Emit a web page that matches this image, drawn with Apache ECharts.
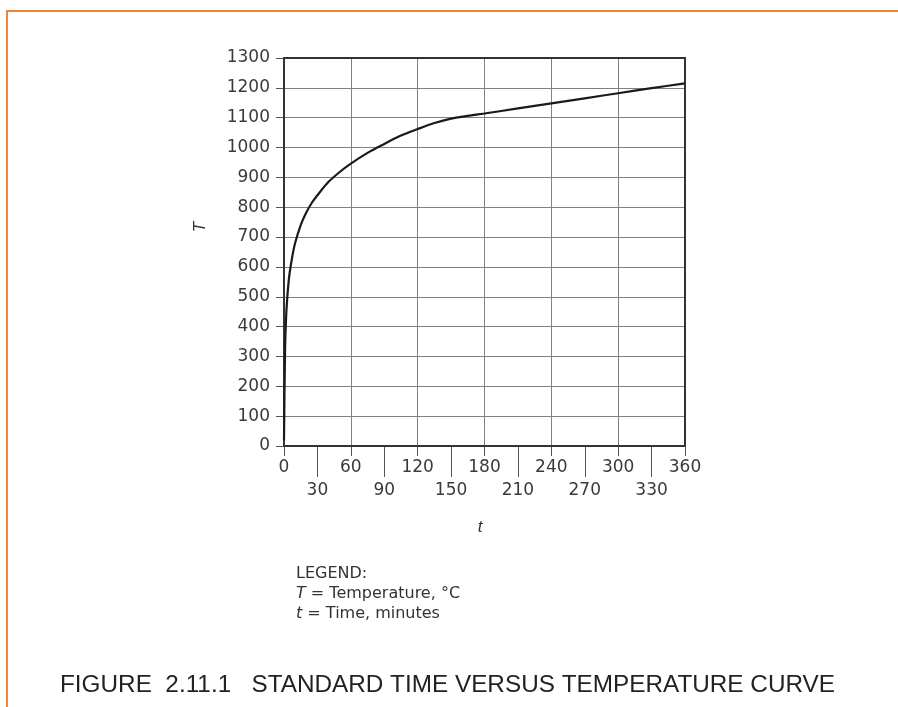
<!DOCTYPE html>
<html>
<head>
<meta charset="utf-8">
<script src="https://cdn.jsdelivr.net/npm/echarts@6/dist/echarts.min.js"></script>
<style>
html,body{margin:0;padding:0;background:#fff;}
#chart{width:898px;height:707px;}
</style>
</head>
<body>
<div id="chart"></div>
<script>
// time in minutes (t) and temperature in °C (T)
var timeMinutes = [0, 1, 2, 3, 4, 5, 7.5, 10, 15, 20, 25, 30, 40, 50, 60, 75, 90, 105, 120, 135, 150, 165, 180, 210, 240, 270, 300, 330, 360];
var temperature = [20, 330, 440, 500, 545, 578, 636, 680, 740, 782, 815, 840, 885, 918, 946, 982, 1012, 1040, 1062, 1082, 1097, 1106, 1114, 1131, 1148, 1165, 1182, 1199, 1215];
var upperTicks = [0, 60, 120, 180, 240, 300, 360];
var lowerTicks = [30, 90, 150, 210, 270, 330];
var titleText = 'FIGURE  2.11.1   STANDARD TIME VERSUS TEMPERATURE CURVE';
var legendLines = ['LEGEND:', '{i|T} = Temperature, °C', '{i|t} = Time, minutes'];

var FONT = 'Liberation Sans, Arial, Helvetica, sans-serif';
var NUMFONT = 'DejaVu Sans, Liberation Sans, sans-serif';
var chart = echarts.init(document.getElementById('chart'), null, {renderer: 'canvas'});

function measure(text, size) {
  var c = document.createElement('canvas').getContext('2d');
  c.font = size + 'px ' + FONT;
  return c.measureText(text).width;
}
var titleSize = 23;
var titleScale = 775 / measure(titleText, titleSize);

var series = timeMinutes.map(function (t, i) { return [t, temperature[i]]; });
var plain = function (v) { return String(v); };

var option = {
  animation: false,
  backgroundColor: '#ffffff',
  grid: {left: 284, top: 58, width: 401, height: 388, show: true, borderColor: '#333', borderWidth: 2, backgroundColor: 'transparent', z: 5},
  xAxis: [{
    type: 'value', min: 0, max: 360, interval: 30, position: 'bottom',
    axisLine: {show: true, onZero: false, lineStyle: {color: '#333', width: 2}},
    axisTick: {show: true, inside: false, length: 10, customValues: upperTicks, lineStyle: {color: '#555', width: 1}},
    axisLabel: {show: true, customValues: upperTicks, formatter: plain, margin: 13, fontSize: 17, fontFamily: NUMFONT, color: '#3a3a3a'},
    splitLine: {show: true, lineStyle: {color: '#808080', width: 1}}
  }, {
    type: 'value', min: 0, max: 360, interval: 30, position: 'bottom', gridIndex: 0,
    axisLine: {show: false},
    axisTick: {show: true, inside: false, length: 31, customValues: lowerTicks, lineStyle: {color: '#555', width: 1}},
    axisLabel: {show: true, customValues: lowerTicks, formatter: plain, margin: 36, fontSize: 17, fontFamily: NUMFONT, color: '#3a3a3a'},
    splitLine: {show: false}
  }],
  yAxis: {
    type: 'value', min: 0, max: 1300, interval: 100,
    axisLine: {show: true, onZero: false, lineStyle: {color: '#333', width: 2}},
    axisTick: {show: true, inside: false, length: 8, lineStyle: {color: '#555', width: 1}},
    axisLabel: {margin: 14, formatter: plain, fontSize: 17, fontFamily: NUMFONT, color: '#3a3a3a'},
    splitLine: {show: true, lineStyle: {color: '#808080', width: 1}}
  },
  series: [{
    type: 'line', xAxisIndex: 0, data: series, smooth: 0.35, showSymbol: false, symbol: 'none',
    lineStyle: {color: '#1a1a1a', width: 2.2}, z: 10
  }],
  graphic: [
    {type: 'line', shape: {x1: 7, y1: 11, x2: 898, y2: 11}, style: {stroke: '#F0843C', lineWidth: 2}},
    {type: 'line', shape: {x1: 7, y1: 10, x2: 7, y2: 707}, style: {stroke: '#F0843C', lineWidth: 2}},
    {type: 'text', x: 200, y: 227, rotation: Math.PI / 2, style: {text: 'T', font: 'italic 17px ' + FONT, fill: '#333', textAlign: 'center', textVerticalAlign: 'middle'}},
    {type: 'text', x: 480, y: 527, style: {text: 't', font: 'italic 17px ' + FONT, fill: '#333', textAlign: 'center', textVerticalAlign: 'middle'}},
    {type: 'text', x: 296, y: 574, style: {text: legendLines[0], font: '16px ' + NUMFONT, fill: '#333', textVerticalAlign: 'middle'}},
    {type: 'text', x: 296, y: 594, style: {text: legendLines[1], font: '16px ' + NUMFONT, fill: '#333', textVerticalAlign: 'middle', rich: {i: {fontStyle: 'italic', fontSize: 16, fontFamily: NUMFONT, fill: '#333'}}}},
    {type: 'text', x: 296, y: 614, style: {text: legendLines[2], font: '16px ' + NUMFONT, fill: '#333', textVerticalAlign: 'middle', rich: {i: {fontStyle: 'italic', fontSize: 16, fontFamily: NUMFONT, fill: '#333'}}}},
    {type: 'text', x: 60, y: 686, scaleX: titleScale, style: {text: titleText, font: titleSize + 'px ' + FONT, fill: '#222', textVerticalAlign: 'middle'}}
  ]
};
chart.setOption(option);
</script>
</body>
</html>
